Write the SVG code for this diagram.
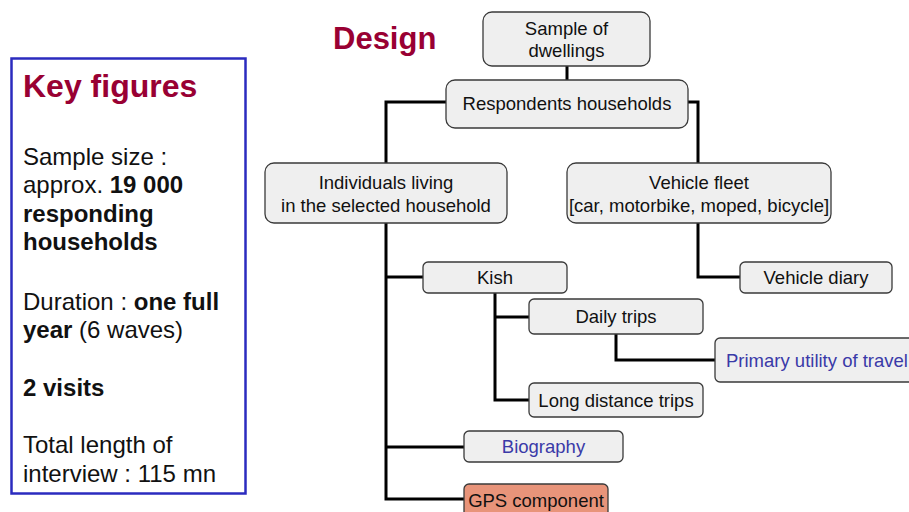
<svg xmlns="http://www.w3.org/2000/svg" width="909" height="512" viewBox="0 0 909 512">
  <style>
    text { font-family: "Liberation Sans", Arial, sans-serif; }
    .box { fill: #efefef; stroke: #3a3a3a; stroke-width: 1.3; }
    .gps { fill: #e8947a; stroke: #3a3a3a; stroke-width: 1.3; }
    .lbl { font-size: 18.5px; fill: #111; text-anchor: middle; }
    .blue { fill: #3a3aa8; }
    .kf { font-size: 24px; fill: #111; }
    .b { font-weight: bold; }
    .title { font-weight: bold; fill: #990033; }
    .wire { fill: none; stroke: #000; stroke-width: 3; }
  </style>
  <rect width="909" height="512" fill="#fff"/>

  <!-- Key figures panel -->
  <g id="key-figures">
    <rect x="11.5" y="58.5" width="234" height="435" fill="#fff" stroke="#2b2bbf" stroke-width="2.5"/>
    <text class="title" x="23" y="97" font-size="32">Key figures</text>
    <text class="kf" x="23" y="165">Sample size :</text>
    <text class="kf" x="23" y="193">approx. <tspan class="b">19 000</tspan></text>
    <text class="kf b" x="23" y="222">responding</text>
    <text class="kf b" x="23" y="250">households</text>
    <text class="kf" x="23" y="310">Duration : <tspan class="b">one full</tspan></text>
    <text class="kf" x="23" y="338"><tspan class="b">year</tspan> (6 waves)</text>
    <text class="kf b" x="23" y="396">2 visits</text>
    <text class="kf" x="23" y="453">Total length of</text>
    <text class="kf" x="23" y="482">interview : 115 mn</text>
  </g>

  <text class="title" x="333" y="49" font-size="31">Design</text>

  <!-- connectors -->
  <g id="connectors">
    <path class="wire" d="M567 66 V80"/>
    <path class="wire" d="M446 102 H386 V163"/>
    <path class="wire" d="M688 102 H698 V163"/>
    <path class="wire" d="M386 223 V499 H464"/>
    <path class="wire" d="M386 277 H423"/>
    <path class="wire" d="M386 447 H464"/>
    <path class="wire" d="M495 293 V400 H529"/>
    <path class="wire" d="M495 317 H529"/>
    <path class="wire" d="M616 334 V360 H715"/>
    <path class="wire" d="M698 223 V277 H740"/>
  </g>

  <g id="sample">
    <rect class="box" x="483" y="12" width="167" height="54" rx="9"/>
    <text class="lbl" x="566.5" y="35">Sample of</text>
    <text class="lbl" x="566.5" y="57">dwellings</text>
  </g>
  <g id="households">
    <rect class="box" x="446" y="80" width="242" height="48" rx="9"/>
    <text class="lbl" x="567" y="110">Respondents households</text>
  </g>
  <g id="individuals">
    <rect class="box" x="265" y="163" width="242" height="60" rx="9"/>
    <text class="lbl" x="386" y="189">Individuals living</text>
    <text class="lbl" x="386" y="212">in the selected household</text>
  </g>
  <g id="vehicle-fleet">
    <rect class="box" x="567" y="163" width="264" height="60" rx="9"/>
    <text class="lbl" x="699" y="189">Vehicle fleet</text>
    <text class="lbl" x="699" y="212">[car, motorbike, moped, bicycle]</text>
  </g>
  <g id="kish">
    <rect class="box" x="423" y="262" width="144" height="31" rx="5"/>
    <text class="lbl" x="495" y="284">Kish</text>
  </g>
  <g id="vehicle-diary">
    <rect class="box" x="740" y="262" width="152" height="31" rx="5"/>
    <text class="lbl" x="816" y="284">Vehicle diary</text>
  </g>
  <g id="daily-trips">
    <rect class="box" x="529" y="299" width="174" height="35" rx="5"/>
    <text class="lbl" x="616" y="323">Daily trips</text>
  </g>
  <g id="primary-utility">
    <rect class="box" x="715" y="338" width="210" height="44" rx="5"/>
    <text class="lbl blue" x="726" y="367" style="text-anchor:start">Primary utility of travel</text>
  </g>
  <g id="long-distance">
    <rect class="box" x="529" y="383" width="174" height="34" rx="5"/>
    <text class="lbl" x="616" y="407">Long distance trips</text>
  </g>
  <g id="biography">
    <rect class="box" x="464" y="431" width="159" height="31" rx="5"/>
    <text class="lbl blue" x="543.5" y="453">Biography</text>
  </g>
  <g id="gps">
    <rect class="gps" x="464" y="484" width="144" height="40" rx="5"/>
    <text class="lbl" x="536" y="507">GPS component</text>
  </g>
</svg>
